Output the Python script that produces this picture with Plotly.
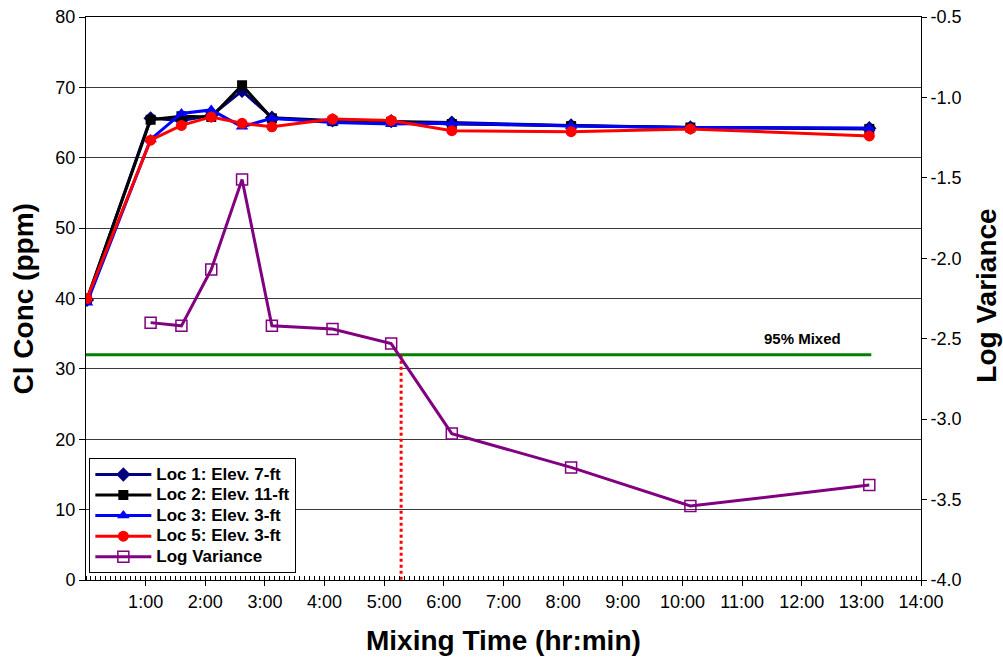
import plotly.graph_objects as go

# ---- data (times in minutes since start) ----
times = [1, 65, 96, 126, 157, 187, 248, 307, 368, 488, 608, 788]
loc1 = [39.8, 65.6, 65.3, 66.0, 69.5, 65.7, 65.3, 65.2, 65.0, 64.6, 64.3, 64.2]
loc2 = [39.9, 65.4, 65.9, 65.8, 70.3, 65.6, 65.2, 65.1, 64.8, 64.5, 64.3, 64.1]
loc3 = [39.4, 62.6, 66.3, 66.8, 64.4, 65.6, 65.0, 64.8, 64.9, 64.5, 64.3, 64.2]
loc5 = [40.0, 62.5, 64.6, 65.8, 64.9, 64.4, 65.5, 65.3, 63.85, 63.7, 64.1, 63.1]

var_times = [65, 96, 126, 157, 187, 248, 307, 368, 488, 608, 788]
log_var = [-2.40, -2.42, -2.07, -1.51, -2.42, -2.44, -2.53, -3.09, -3.30, -3.54, -3.41]

series_names = ["Loc 1: Elev. 7-ft", "Loc 2: Elev. 11-ft", "Loc 3: Elev. 3-ft",
                "Loc 5: Elev. 3-ft", "Log Variance"]

mixed_level = -2.6          # 95% mixed threshold (log variance)
mixed_line_end = 790        # minutes
mixed_time = 317            # minutes where log variance crosses threshold

x_hours = list(range(1, 15))
x_tickvals = [h * 60 for h in x_hours]
x_ticktext = [f"{h}:00" for h in x_hours]

y_left_ticks = [0, 10, 20, 30, 40, 50, 60, 70, 80]
y_right_ticks = [-4.0, -3.5, -3.0, -2.5, -2.0, -1.5, -1.0, -0.5]
y_right_text = ["-4.0", "-3.5", "-3.0", "-2.5", "-2.0", "-1.5", "-1.0", "-0.5"]

FONT = "Liberation Sans, Arial, sans-serif"


def leg(name):
    return f'<span style="font-size:17px">{name}</span>'


fig = go.Figure()

fig.add_trace(go.Scatter(x=times, y=loc1, name=leg(series_names[0]), mode="lines+markers",
                         line=dict(color="#000080", width=3),
                         marker=dict(symbol="diamond", size=11, color="#000080")))
fig.add_trace(go.Scatter(x=times, y=loc2, name=leg(series_names[1]), mode="lines+markers",
                         line=dict(color="#000000", width=3),
                         marker=dict(symbol="square", size=10, color="#000000")))
fig.add_trace(go.Scatter(x=times, y=loc3, name=leg(series_names[2]), mode="lines+markers",
                         line=dict(color="#0000FF", width=3),
                         marker=dict(symbol="triangle-up", size=11, color="#0000FF")))
fig.add_trace(go.Scatter(x=times, y=loc5, name=leg(series_names[3]), mode="lines+markers",
                         line=dict(color="#FF0000", width=3),
                         marker=dict(symbol="circle", size=11, color="#FF0000")))

# 95% mixed line and marker (right axis)
fig.add_trace(go.Scatter(x=[0, mixed_line_end], y=[mixed_level, mixed_level], yaxis="y2",
                         mode="lines", line=dict(color="#008000", width=3),
                         showlegend=False, hoverinfo="skip"))
fig.add_trace(go.Scatter(x=[mixed_time, mixed_time], y=[mixed_level, -4.0], yaxis="y2",
                         mode="lines", line=dict(color="#FF0000", width=3, dash="dot"),
                         showlegend=False, hoverinfo="skip"))

fig.add_trace(go.Scatter(x=var_times, y=log_var, name=leg(series_names[4]),
                         mode="lines+markers", yaxis="y2",
                         line=dict(color="#800080", width=3),
                         marker=dict(symbol="square-open", size=11, color="#800080",
                                     line=dict(width=1.5, color="#800080"))))

fig.add_annotation(x=762, y=mixed_level, xref="x", yref="y2",
                   text="<b>95% Mixed</b>", showarrow=False, xanchor="right",
                   yanchor="middle", yshift=16,
                   font=dict(family=FONT, size=15, color="black"))

# axis titles
fig.add_annotation(x=0.5, y=-0.108, xref="paper", yref="paper",
                   text="<b>Mixing Time (hr:min)</b>", showarrow=False,
                   xanchor="center", yanchor="middle",
                   font=dict(family=FONT, size=28, color="black"))
fig.add_annotation(x=-0.0743, y=0.5, xref="paper", yref="paper",
                   text="<b>Cl Conc (ppm)</b>", showarrow=False, textangle=-90,
                   xanchor="center", yanchor="middle",
                   font=dict(family=FONT, size=28, color="black"))
fig.add_annotation(x=1.079, y=0.505, xref="paper", yref="paper",
                   text="<b>Log Variance</b>", showarrow=False, textangle=-90,
                   xanchor="center", yanchor="middle",
                   font=dict(family=FONT, size=28, color="black"))

fig.update_layout(
    width=1003, height=662,
    margin=dict(l=86, r=82, t=17, b=82, autoexpand=False),
    paper_bgcolor="white", plot_bgcolor="white",
    font=dict(family=FONT, size=18, color="black"),
    showlegend=True,
    legend=dict(x=0.004, y=0.012, xanchor="left", yanchor="bottom",
                bgcolor="white", bordercolor="black", borderwidth=1,
                font=dict(family=FONT, size=13.5, color="black", weight="bold"),
                itemwidth=56, tracegroupgap=0),
    xaxis=dict(range=[0, 840], tickmode="array", tickvals=x_tickvals, ticktext=x_ticktext,
               ticks="outside", ticklen=5, tickcolor="black", tickwidth=1,
               showline=True, linecolor="black", linewidth=1, mirror=True,
               showgrid=False, zeroline=False, automargin=False,
               minor=dict(tickmode="linear", tick0=0, dtick=5, ticks="inside",
                          ticklen=4, tickcolor="black", tickwidth=1, showgrid=False),
               tickfont=dict(family=FONT, size=18, color="black")),
    xaxis2=dict(range=[0, 840], overlaying="x", anchor="y", side="bottom",
                tickmode="array", tickvals=x_tickvals, ticks="inside", ticklen=5,
                tickcolor="black", showticklabels=False, showgrid=False,
                zeroline=False, showline=False, automargin=False),
    yaxis=dict(range=[0, 80], tickmode="array", tickvals=y_left_ticks,
               ticks="outside", ticklen=6, tickcolor="black",
               showline=True, linecolor="black", linewidth=1,
               showgrid=True, gridcolor="#3a3a3a", gridwidth=1, zeroline=False,
               automargin=False,
               tickfont=dict(family=FONT, size=18, color="black")),
    yaxis2=dict(range=[-4.0, -0.5], overlaying="y", side="right", anchor="x",
                tickmode="array", tickvals=y_right_ticks, ticktext=y_right_text,
                ticks="outside", ticklen=5, tickcolor="black",
                showline=True, linecolor="black", linewidth=1,
                showgrid=False, zeroline=False, automargin=False,
                tickfont=dict(family=FONT, size=18, color="black")),
    yaxis3=dict(range=[-4.0, -0.5], overlaying="y", side="right", anchor="x",
                tickmode="array", tickvals=y_right_ticks, ticks="inside", ticklen=5,
                tickcolor="black", showticklabels=False, showgrid=False,
                zeroline=False, showline=False, automargin=False),
)

fig.write_html("out.html", config={"displayModeBar": False},
               post_script="document.body.style.margin='0';document.body.style.overflow='hidden';")
